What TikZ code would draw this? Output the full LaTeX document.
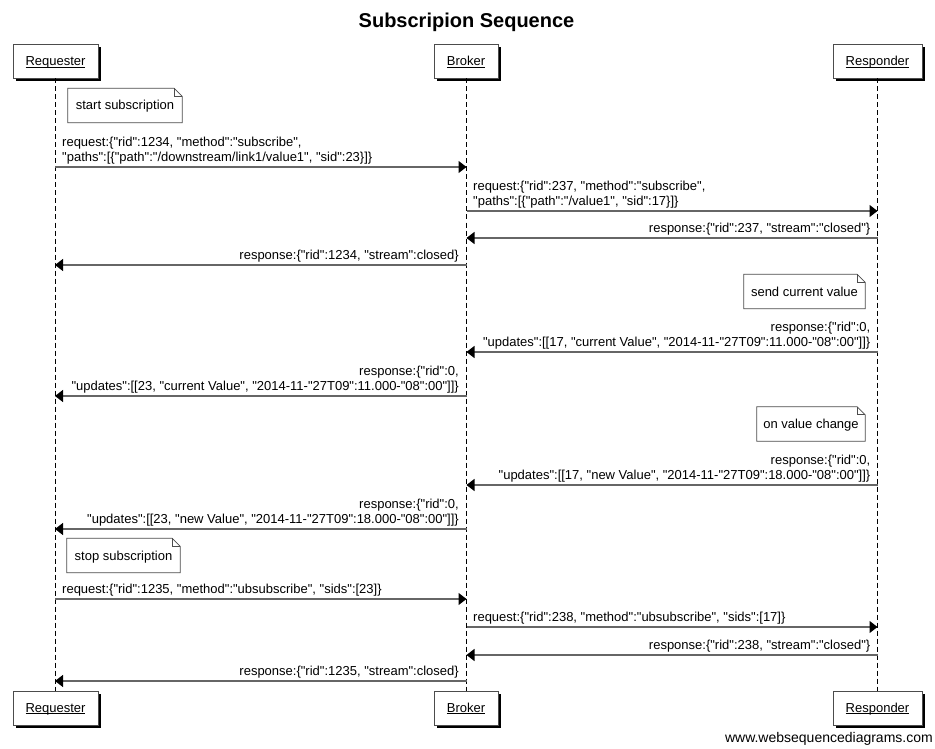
\documentclass[tikz,border=0pt]{standalone}
\usepackage{fontspec}
\setmainfont{Liberation Sans}[Ligatures=TeXOff]
\usetikzlibrary{arrows.meta,shadows}

% lifeline positions
\def\xR{55}
\def\xB{466.5}
\def\xS{877.5}

% underline sitting just below the baseline
\newcommand\uln[1]{\setbox0\hbox{#1}\rlap{\rule[-1.6pt]{\wd0}{0.7pt}}\box0}

\newcommand\drawnote[1]{%
  \draw[noteline] (#1.south west) -- (#1.north west) -- ([xshift=-8pt]#1.north east)
    -- ([yshift=-8pt]#1.north east) -- (#1.south east) -- cycle;
  \draw[noteline] ([xshift=-8pt]#1.north east) -- ([xshift=-8pt,yshift=-8pt]#1.north east)
    -- ([yshift=-8pt]#1.north east);}

\begin{document}
\begin{tikzpicture}[x=1pt,y=-1pt,
  actor/.style={draw=black!70, fill=white, line width=0.8pt, minimum height=34pt,
    inner sep=0pt, text height=9pt, text depth=0pt, font=\fontsize{13}{15}\selectfont,
    general shadow={shadow xshift=3pt, shadow yshift=-3pt, fill=black}},
  lifeline/.style={draw=black, line width=0.8pt, dash pattern=on 5pt off 3pt},
  msg/.style={draw=black!60, line width=1.2pt,
    -{Triangle[length=8pt,width=12pt,color=black]}},
  lbl/.style={inner sep=0pt, text depth=0pt, font=\fontsize{13}{15}\selectfont},
  lblL/.style={lbl, anchor=south west, align=left},
  lblR/.style={lbl, anchor=south east, align=right},
  notebox/.style={inner sep=0pt, minimum height=34pt, text height=9pt, text depth=0pt,
    font=\fontsize{13}{15}\selectfont},
  noteline/.style={draw=black!70, line width=0.8pt},
]
\useasboundingbox[fill=white] (0,0) rectangle (935,749);

% title
\node[font=\fontsize{20}{24}\selectfont\bfseries] (title) at (466.5,22.5) {Subscripion Sequence};

% participants
\node[actor, minimum width=85pt] (rqT) at (55.5,61.5) {\uln{Requester}};
\node[actor, minimum width=64pt] (brT) at (466,61.5) {\uln{Broker}};
\node[actor, minimum width=89pt] (rsT) at (877.5,61.5) {\uln{Responder}};
\node[actor, minimum width=85pt] (rqB) at (55.5,708) {\uln{Requester}};
\node[actor, minimum width=64pt] (brB) at (466,708) {\uln{Broker}};
\node[actor, minimum width=89pt] (rsB) at (877.5,708) {\uln{Responder}};

% lifelines
\draw[lifeline] (\xR,78.5) coordinate (rq1) -- (\xR,691) coordinate (rq2);
\draw[lifeline] (\xB,78.5) coordinate (br1) -- (\xB,691) coordinate (br2);
\draw[lifeline] (\xS,78.5) coordinate (rs1) -- (\xS,691) coordinate (rs2);

% notes
\node[notebox, minimum width=114pt] (n1) at (125,105.5) {start subscription};
\drawnote{n1}
\node[notebox, minimum width=121pt] (n2) at (804.5,291.5) {send current value};
\drawnote{n2}
\node[notebox, minimum width=108pt] (n3) at (811,424) {on value change};
\drawnote{n3}
\node[notebox, minimum width=113pt] (n4) at (123.5,555.5) {stop subscription};
\drawnote{n4}

% subscribe
\coordinate (a1) at (\xR,167); \coordinate (b1) at (\xB,167);
\draw[msg] (a1) -- (b1);
\node[lblL] (t1) at (\xR+7,162) {request:\{"rid":1234, "method":"subscribe",\\"paths":[\{"path":"/downstream/link1/value1", "sid":23\}]\}};

\coordinate (a2) at (\xB,211); \coordinate (b2) at (\xS,211);
\draw[msg] (a2) -- (b2);
\node[lblL] (t2) at (\xB+6.5,206) {request:\{"rid":237, "method":"subscribe",\\"paths":[\{"path":"/value1", "sid":17\}]\}};

\coordinate (a3) at (\xS,238); \coordinate (b3) at (\xB,238);
\draw[msg] (a3) -- (b3);
\node[lblR] (t3) at (\xS-7,233) {response:\{"rid":237, "stream":"closed"\}};

\coordinate (a4) at (\xB,265); \coordinate (b4) at (\xR,265);
\draw[msg] (a4) -- (b4);
\node[lblR] (t4) at (\xB-7.5,260) {response:\{"rid":1234, "stream":closed\}};

% current value
\coordinate (a5) at (\xS,352); \coordinate (b5) at (\xB,352);
\draw[msg] (a5) -- (b5);
\node[lblR] (t5) at (\xS-7,347) {response:\{"rid":0,\\"updates":[[17, "current Value", "2014-11-"27T09":11.000-"08":00"]]\}};

\coordinate (a6) at (\xB,396); \coordinate (b6) at (\xR,396);
\draw[msg] (a6) -- (b6);
\node[lblR] (t6) at (\xB-7.5,391) {response:\{"rid":0,\\"updates":[[23, "current Value", "2014-11-"27T09":11.000-"08":00"]]\}};

% value change
\coordinate (a7) at (\xS,485); \coordinate (b7) at (\xB,485);
\draw[msg] (a7) -- (b7);
\node[lblR] (t7) at (\xS-7,480) {response:\{"rid":0,\\"updates":[[17, "new Value", "2014-11-"27T09":18.000-"08":00"]]\}};

\coordinate (a8) at (\xB,529); \coordinate (b8) at (\xR,529);
\draw[msg] (a8) -- (b8);
\node[lblR] (t8) at (\xB-7.5,524) {response:\{"rid":0,\\"updates":[[23, "new Value", "2014-11-"27T09":18.000-"08":00"]]\}};

% unsubscribe
\coordinate (a9) at (\xR,599); \coordinate (b9) at (\xB,599);
\draw[msg] (a9) -- (b9);
\node[lblL] (t9) at (\xR+7,594) {request:\{"rid":1235, "method":"ubsubscribe", "sids":[23]\}};

\coordinate (a10) at (\xB,627); \coordinate (b10) at (\xS,627);
\draw[msg] (a10) -- (b10);
\node[lblL] (t10) at (\xB+6.5,622) {request:\{"rid":238, "method":"ubsubscribe", "sids":[17]\}};

\coordinate (a11) at (\xS,655); \coordinate (b11) at (\xB,655);
\draw[msg] (a11) -- (b11);
\node[lblR] (t11) at (\xS-7,650) {response:\{"rid":238, "stream":"closed"\}};

\coordinate (a12) at (\xB,681); \coordinate (b12) at (\xR,681);
\draw[msg] (a12) -- (b12);
\node[lblR] (t12) at (\xB-7.5,676) {response:\{"rid":1235, "stream":closed\}};

% footer
\node[anchor=east, inner sep=0pt, font=\fontsize{14}{16}\selectfont] (footer) at (933,739) {www.websequencediagrams.com};
\end{tikzpicture}
\end{document}
